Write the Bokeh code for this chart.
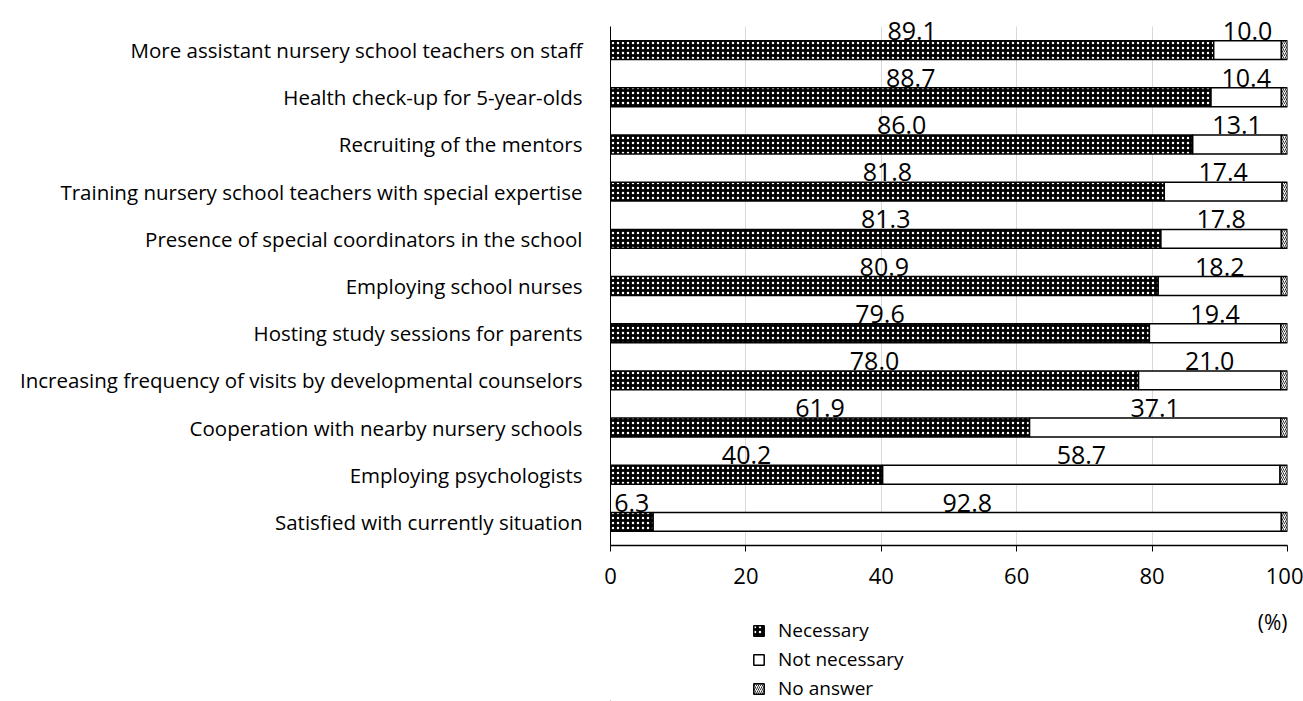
from bokeh.plotting import figure
from bokeh.models import (ColumnDataSource, Range1d, FixedTicker, Legend, LegendItem, Label)
from bokeh.layouts import column
from bokeh.core.properties import value
from bokeh.embed import file_html
from bokeh.resources import INLINE

categories = [
    "More assistant nursery school teachers on staff",
    "Health check-up for 5-year-olds",
    "Recruiting of the mentors",
    "Training nursery school teachers with special expertise",
    "Presence of special coordinators in the school",
    "Employing school nurses",
    "Hosting study sessions for parents",
    "Increasing frequency of visits by developmental counselors",
    "Cooperation with nearby nursery schools",
    "Employing psychologists",
    "Satisfied with currently situation",
]
necessary = [89.1, 88.7, 86.0, 81.8, 81.3, 80.9, 79.6, 78.0, 61.9, 40.2, 6.3]
not_necessary = [10.0, 10.4, 13.1, 17.4, 17.8, 18.2, 19.4, 21.0, 37.1, 58.7, 92.8]
no_answer = [0.9, 0.9, 0.9, 0.8, 0.9, 0.9, 1.0, 1.0, 1.0, 1.1, 0.9]
x_ticks = [0, 20, 40, 60, 80, 100]
series_names = ["Necessary", "Not necessary", "No answer"]
unit_label = "(%)"

FONT = "Open Sans"
W = 1303

# styles per series
STY_N = dict(fill_color="black", hatch_pattern="dot", hatch_color="white",
             hatch_scale=5, hatch_weight=0.6, line_color="black", line_width=1.5)
STY_NN = dict(fill_color="white", line_color="black", line_width=1.5)
STY_NA = dict(fill_color="white", hatch_pattern="right_diagonal_line", hatch_color="black",
              hatch_scale=4, hatch_weight=0.8, line_color="black", line_width=1.5)

n = len(categories)
pos = [n - 1 - i for i in range(n)]          # first category on top
n_end = necessary
nn_end = [a + b for a, b in zip(necessary, not_necessary)]
na_end = [a + b + c for a, b, c in zip(necessary, not_necessary, no_answer)]

src = ColumnDataSource(dict(
    pos=pos,
    lab_pos=[v + 0.41 for v in pos],
    n0=[0] * n, n1=n_end,
    nn1=nn_end, na1=na_end,
    n_lab=[f"{v:.1f}" for v in necessary],
    nn_lab=[f"{v:.1f}" for v in not_necessary],
    n_mid=[v / 2 for v in necessary],
    nn_mid=[a + b / 2 for a, b in zip(necessary, not_necessary)],
))

TOP_EXTRA = 21 / 47.14   # room above the top band for its value labels
p = figure(
    width=W, height=600,
    y_range=Range1d(-0.5, n - 0.5 + TOP_EXTRA),
    x_range=(0, 100),
    output_backend="svg", toolbar_location=None,
    min_border_left=610, min_border_right=16, min_border_top=5, min_border_bottom=55,
)
p.outline_line_color = None

H = 0.4
p.hbar(y="pos", left="n0", right="n1", height=H, source=src, **STY_N)
p.hbar(y="pos", left="n1", right="nn1", height=H, source=src, **STY_NN)
p.hbar(y="pos", left="nn1", right="na1", height=H, source=src, **STY_NA)

p.text(x="n_mid", y="lab_pos", text="n_lab", source=src, text_align="center",
       text_baseline="middle", text_font=value(FONT),
       text_font_size="25px", text_color="black")
p.text(x="nn_mid", y="lab_pos", text="nn_lab", source=src, text_align="center",
       text_baseline="middle", text_font=value(FONT),
       text_font_size="25px", text_color="black")

# axes
p.xaxis.ticker = FixedTicker(ticks=x_ticks)
p.xaxis.minor_tick_line_color = None
p.xaxis.major_tick_in = 0
p.xaxis.major_tick_out = 6
p.xaxis.major_tick_line_color = "black"
p.xaxis.axis_line_color = "black"
p.xaxis.axis_line_width = 1.5
p.xaxis.major_label_text_font = FONT
p.xaxis.major_label_text_font_size = "22px"
p.xaxis.major_label_text_color = "black"
p.xaxis.major_label_standoff = 16

p.yaxis.ticker = FixedTicker(ticks=pos)
p.yaxis.major_label_overrides = {pp: c for pp, c in zip(pos, categories)}
p.yaxis.bounds = (-0.5, n - 0.5)
p.yaxis.major_tick_line_color = None
p.yaxis.minor_tick_line_color = None
p.yaxis.axis_line_color = "black"
p.yaxis.axis_line_width = 1
p.yaxis.major_label_text_font = FONT
p.yaxis.major_label_text_font_size = "20.5px"
p.yaxis.major_label_text_color = "black"
p.yaxis.major_label_standoff = 22

p.xgrid.grid_line_color = "#d9d9d9"
p.xgrid.grid_line_width = 1
try:
    p.xgrid.cross_bounds = (-0.5, n - 0.5)
except Exception:
    pass
p.ygrid.grid_line_color = None

# lower strip: unit label and legend (frame aligned with main plot)
H2 = 101
p2 = figure(width=W, height=H2, x_range=(0, 100), y_range=(0, H2),
            x_axis_location=None, y_axis_location=None,
            output_backend="svg", toolbar_location=None,
            min_border_left=610, min_border_right=16,
            min_border_top=0, min_border_bottom=0)
p2.outline_line_color = None
p2.grid.visible = False

dummy = ColumnDataSource(dict(y=[-1000], l=[-500], r=[-400]))
d_n = p2.hbar(y="y", left="l", right="r", height=1, source=dummy, **STY_N)
d_nn = p2.hbar(y="y", left="l", right="r", height=1, source=dummy, **STY_NN)
d_na = p2.hbar(y="y", left="l", right="r", height=1, source=dummy, **STY_NA)

p2.add_layout(Label(x=100, y=H2 - 21, text=unit_label,
                    text_align="right", text_baseline="middle", text_font=FONT,
                    text_font_size="21px", text_color="black"))

legend = Legend(items=[
    LegendItem(label=series_names[0], renderers=[d_n]),
    LegendItem(label=series_names[1], renderers=[d_nn]),
    LegendItem(label=series_names[2], renderers=[d_na]),
], location=(142, 0), orientation="vertical")
legend.border_line_color = None
legend.background_fill_alpha = 0
legend.padding = 0
legend.margin = 0
legend.spacing = 3
legend.glyph_width = 13
legend.glyph_height = 13
legend.label_height = 21
legend.label_standoff = 13
legend.label_text_font = FONT
legend.label_text_font_size = "19px"
legend.label_text_color = "black"
p2.add_layout(legend, "center")

layout = column(p, p2, spacing=0)
open("out.html", "w").write(file_html(layout, INLINE))
